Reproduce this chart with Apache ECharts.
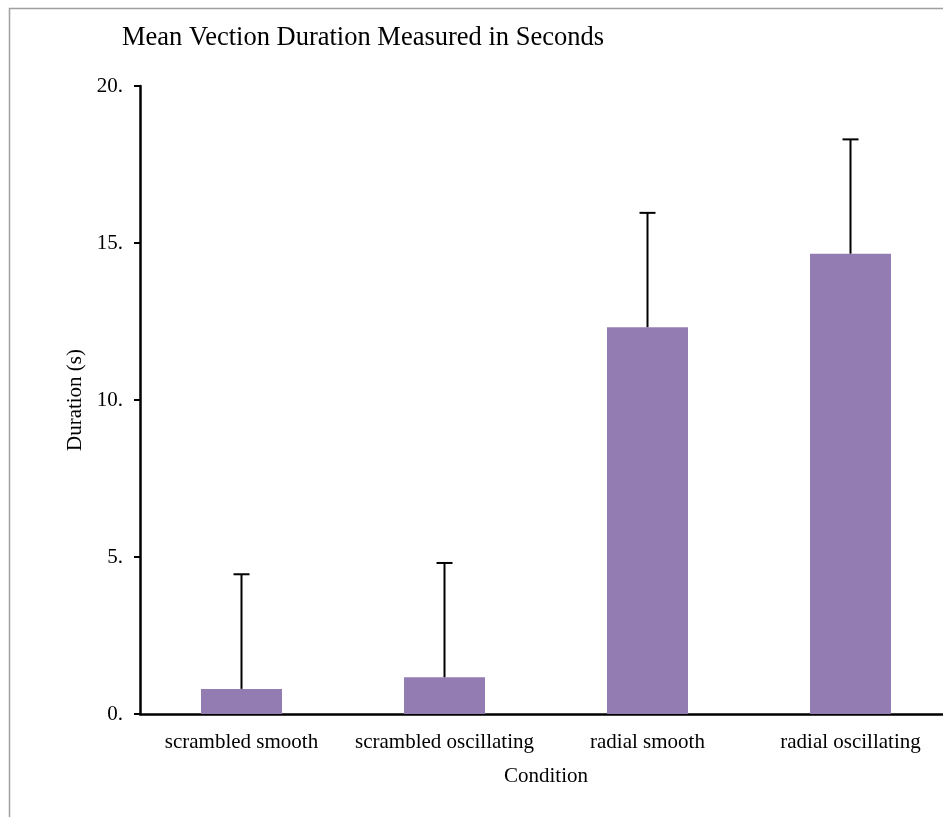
<!DOCTYPE html>
<html>
<head>
<meta charset="utf-8">
<script src="https://cdn.jsdelivr.net/npm/echarts@6/dist/echarts.min.js"></script>
<style>
  html, body { margin: 0; padding: 0; background: #fff; overflow: hidden; width: 943px; height: 817px; }
  #chart { width: 960px; height: 817px; }
</style>
</head>
<body>
<div id="chart"></div>
<script>
// Mean vection duration per condition, with upward error bars
const categories = ['scrambled smooth', 'scrambled oscillating', 'radial smooth', 'radial oscillating'];
const meanDuration = [0.80, 1.17, 12.32, 14.66];
const errorUpper = [4.45, 4.81, 15.96, 18.30];
const yTicks = [0, 5, 10, 15, 20];

const FONT = '"Liberation Serif", "DejaVu Serif", serif';
const chart = echarts.init(document.getElementById('chart'));

chart.setOption({
  animation: false,
  backgroundColor: '#fff',
  title: {
    text: 'Mean Vection Duration Measured in Seconds',
    left: 117,
    top: 20,
    textStyle: { fontFamily: FONT, fontWeight: 'normal', fontSize: 26.5, color: '#000' }
  },
  graphic: [{
    type: 'rect',
    shape: { x: 9.5, y: 8.5, width: 1000, height: 1000 },
    style: { fill: 'none', stroke: '#a0a0a0', lineWidth: 1.5 },
    silent: true
  }],
  grid: { left: 140, right: 8, top: 86, bottom: 103, containLabel: false },
  xAxis: {
    type: 'category',
    data: categories,
    name: 'Condition',
    nameLocation: 'middle',
    nameGap: 52,
    nameTextStyle: { fontFamily: FONT, fontSize: 21, color: '#000' },
    axisLine: { lineStyle: { color: '#000', width: 2.5 } },
    axisTick: { show: false },
    axisLabel: { fontFamily: FONT, fontSize: 21, color: '#000', margin: 18, interval: 0 },
    splitLine: { show: false }
  },
  yAxis: {
    type: 'value',
    min: yTicks[0],
    max: yTicks[yTicks.length - 1],
    interval: 5,
    name: 'Duration (s)',
    nameLocation: 'middle',
    nameGap: 51,
    nameTextStyle: { fontFamily: FONT, fontSize: 21, color: '#000' },
    axisLine: { show: true, lineStyle: { color: '#000', width: 2.5 } },
    axisTick: { show: true, length: 6, inside: false, lineStyle: { color: '#000', width: 2 } },
    axisLabel: {
      fontFamily: FONT, fontSize: 21, color: '#000', margin: 17,
      formatter: v => v + '.'
    },
    splitLine: { show: false }
  },
  series: [
    {
      type: 'bar',
      data: meanDuration,
      barWidth: 81,
      itemStyle: { color: '#937cb2' },
      z: 2
    },
    {
      type: 'custom',
      z: 3,
      data: categories.map((c, i) => [i, meanDuration[i], errorUpper[i]]),
      renderItem: (params, api) => {
        const base = api.coord([api.value(0), api.value(1)]);
        const top = api.coord([api.value(0), api.value(2)]);
        const half = 8;
        const style = { stroke: '#000', lineWidth: 2 };
        return {
          type: 'group',
          children: [
            { type: 'line', shape: { x1: base[0], y1: base[1], x2: top[0], y2: top[1] }, style },
            { type: 'line', shape: { x1: top[0] - half, y1: top[1], x2: top[0] + half, y2: top[1] }, style }
          ]
        };
      }
    }
  ]
});
</script>
</body>
</html>
